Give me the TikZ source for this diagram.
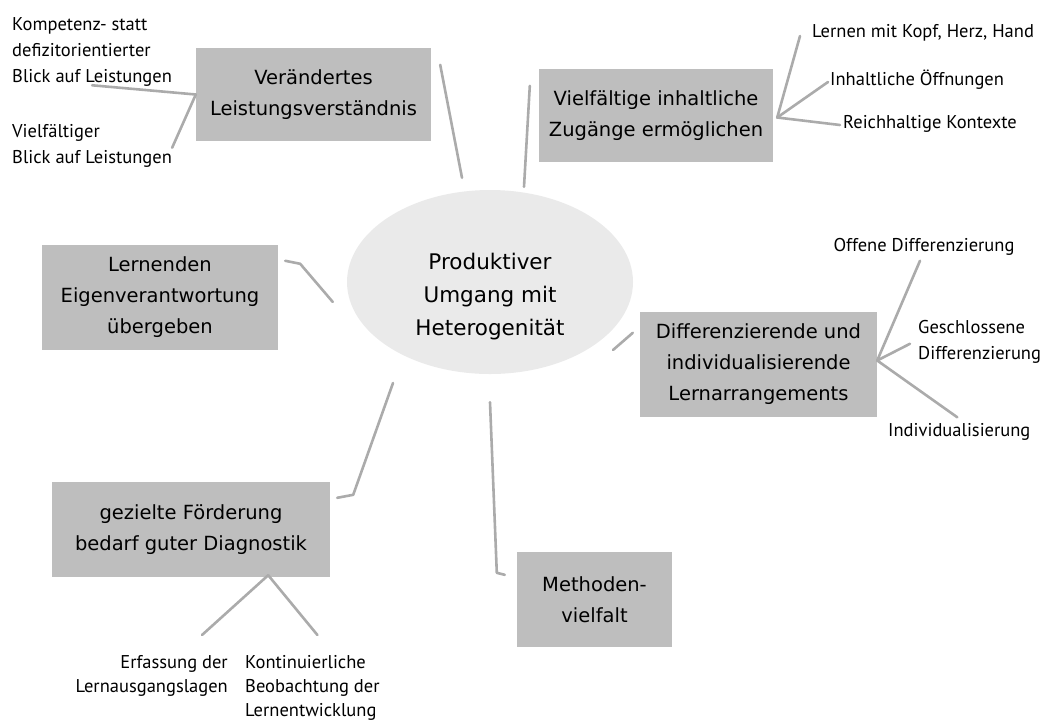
\documentclass[tikz,border=0pt]{standalone}
\usepackage{fontspec}
\setmainfont{PT Sans}
\newfontfamily\boxfont{DejaVu Sans}
\usetikzlibrary{shapes.geometric}
\definecolor{boxgray}{HTML}{BEBEBE}
\definecolor{ellgray}{HTML}{EAEAEA}
\definecolor{linegray}{HTML}{ABABAB}
\tikzset{
  topic/.style={fill=boxgray, draw=none, rectangle, inner sep=0pt, align=center,
    font=\boxfont\fontsize{19.5}{31}\selectfont},
  leaf/.style={inner sep=0pt, font=\fontsize{18.5}{26}\selectfont},
  conn/.style={draw=linegray, line width=2.6pt, line cap=round, line join=round},
}
\begin{document}
\begin{tikzpicture}[x=1pt,y=-1pt]
\useasboundingbox (0,0) rectangle (1048,721);
% central ellipse
\node[ellipse, fill=ellgray, minimum width=286pt, minimum height=184pt, inner sep=0pt, align=center,
  font=\boxfont\fontsize{21.5}{33}\selectfont] (cen) at (490,282)
  {\rule{0pt}{46pt}Produktiver\\Umgang mit\\Heterogenität};
% topic boxes
\node[topic, minimum width=235pt, minimum height=93pt] (ver) at (313.5,94.5) {Verändertes\\Leistungsverständnis};
\node[topic, minimum width=234pt, minimum height=93pt] (viel) at (656,115.5) {Vielfältige inhaltliche\\Zugänge ermöglichen};
\node[topic, minimum width=237pt, minimum height=105pt] (diff) at (758.5,364.5) {Differenzierende und\\individualisierende\\Lernarrangements};
\node[topic, minimum width=236pt, minimum height=105pt] (lern) at (160,297.5) {Lernenden\\Eigenverantwortung\\übergeben};
\node[topic, minimum width=278pt, minimum height=95pt] (gez) at (191,529.5) {gezielte Förderung\\bedarf guter Diagnostik};
\node[topic, minimum width=155pt, minimum height=95pt] (meth) at (594.5,599.5) {Methoden-\\vielfalt};
% leaves
\node[leaf, anchor=north west, align=left] (komp) at (12,17) {Kompetenz- statt\\defizitorientierter\\Blick auf Leistungen};
\node[leaf, anchor=north west, align=left] (vielf) at (12,124) {Vielfältiger\\Blick auf Leistungen};
\node[leaf, anchor=west] (lkh) at (812,33) {Lernen mit Kopf, Herz, Hand};
\node[leaf, anchor=west] (io) at (830,80) {Inhaltliche Öffnungen};
\node[leaf, anchor=west] (rk) at (843,124) {Reichhaltige Kontexte};
\node[leaf] (od) at (924,247) {Offene Differenzierung};
\node[leaf, anchor=north west, align=left] (gd) at (918,320) {Geschlossene\\Differenzierung};
\node[leaf, anchor=west] (ind) at (888,432) {Individualisierung};
\node[leaf, anchor=north east, align=right, font=\fontsize{18.5}{24}\selectfont] (erf) at (228,655) {Erfassung der\\Lernausgangslagen};
\node[leaf, anchor=north west, align=left, font=\fontsize{18.5}{24}\selectfont] (kont) at (245,655) {Kontinuierliche\\Beobachtung der\\Lernentwicklung};
% connectors
\draw[conn] (ver.west) -- ([shift={(0,-1)}]komp.south);
\draw[conn] (ver.west) -- ([shift={(0,2)}]vielf.east);
\draw[conn] ([shift={(9,17)}]ver.north east) -- ([shift={(-28,-12)}]cen.north);
\draw[conn] ([shift={(-9,17)}]viel.north west) -- ([shift={(34,-3)}]cen.north);
\draw[conn] ([shift={(4,2)}]viel.east) -- ([shift={(-12,3)}]lkh.west);
\draw[conn] ([shift={(4,2)}]viel.east) -- ([shift={(-2,2)}]io.west);
\draw[conn] ([shift={(4,2)}]viel.east) -- ([shift={(-3,1)}]rk.west);
\draw[conn] ([shift={(7,16)}]lern.north east) -- ++(15,3) -- ([shift={(-14,20)}]cen.west);
\draw[conn] ([shift={(-97,101)}]cen.center) -- ([shift={(23,13)}]gez.north east) -- ([shift={(7,16)}]gez.north east);
\draw[conn] ([shift={(0,28)}]cen.south) -- ([shift={(-20,21)}]meth.north west) -- ([shift={(-12,23)}]meth.north west);
\draw[conn] ([shift={(123,68)}]cen.center) -- ([shift={(-7,21)}]diff.north west);
\draw[conn] ([shift={(0,-4)}]diff.east) -- ([shift={(-4,5)}]od.south);
\draw[conn] ([shift={(0,-4)}]diff.east) -- ([shift={(-8,2)}]gd.west);
\draw[conn] ([shift={(0,-4)}]diff.east) -- ([shift={(-2,-6)}]ind.north);
\draw[conn] ([shift={(-62,-2)}]gez.south east) -- ([shift={(-26,-20)}]erf.north east);
\draw[conn] ([shift={(-62,-2)}]gez.south east) -- ([shift={(5,-20)}]kont.north);
\end{tikzpicture}
\end{document}
